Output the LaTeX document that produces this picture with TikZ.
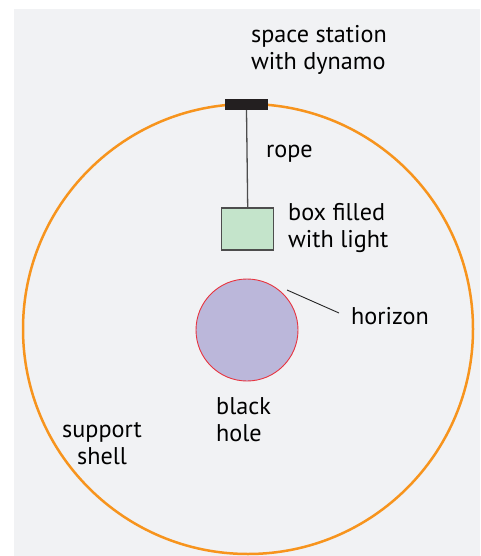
\documentclass[tikz,border=0pt]{standalone}
\usepackage{fontspec}
\setmainfont{PT Sans}
\definecolor{bgc}{RGB}{241,242,244}
\definecolor{shellc}{RGB}{247,148,29}
\definecolor{bhfill}{RGB}{187,183,218}
\definecolor{bhdraw}{RGB}{232,52,63}
\definecolor{boxfill}{RGB}{196,228,203}
\definecolor{boxdraw}{RGB}{77,77,77}
\definecolor{stationc}{RGB}{35,31,32}
\begin{document}
\begin{tikzpicture}[x=1pt,y=-1pt,
  lbl/.style={inner sep=0pt,font=\fontsize{24.2}{27}\selectfont,text=black},
  shellline/.style={draw=shellc,line width=2.5pt},
  stationbox/.style={draw=none,fill=stationc,minimum width=43pt,minimum height=11pt,inner sep=0pt},
  lightbox/.style={draw=boxdraw,fill=boxfill,line width=1.3pt,minimum width=52pt,minimum height=42pt,inner sep=0pt},
  hole/.style={circle,draw=bhdraw,fill=bhfill,line width=0.9pt,minimum size=102pt,inner sep=0pt},
  ropeline/.style={draw=boxdraw,line width=1.3pt},
  leader/.style={draw=black!85,line width=0.9pt}]
\useasboundingbox (0,0) rectangle (480,556);
\fill[bgc] (14,9) rectangle (480,556);
\draw[shellline] (248,329) circle[radius=225];
\node[stationbox] (station) at (246.5,104.5) {};
\node[lightbox] (box) at (247.7,229) {};
\draw[ropeline] (station.south) -- (box.north);
\node[hole] (bh) at (247,330) {};
\node[lbl,align=left,anchor=west] (stationlbl) at (251,49.5) {space station\\with dynamo};
\node[lbl,anchor=base west] (ropelbl) at (266,157.5) {rope};
\node[lbl,align=left,anchor=west] (boxlbl) at (288,228.5) {box filled\\with light};
\node[lbl,anchor=base west] (horizonlbl) at (351,324.5) {horizon};
\node[lbl,align=left,anchor=west] (bhlbl) at (216,419.5) {black\\hole};
\node[lbl,align=center] (shelllbl) at (102,443.5) {support\\shell};
\coordinate (h1) at (287,290);
\coordinate (h2) at (339,313);
\draw[leader] (h1) -- (h2);
\end{tikzpicture}
\end{document}
